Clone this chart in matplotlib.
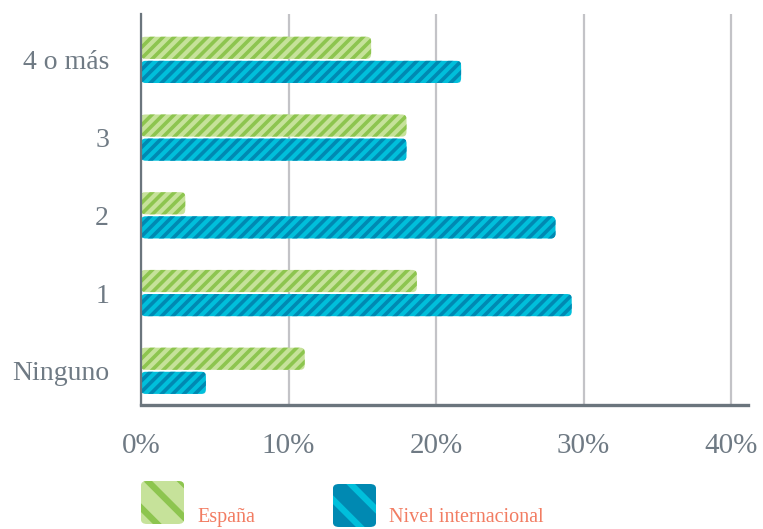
import matplotlib
matplotlib.use("Agg")
import matplotlib.pyplot as plt
from matplotlib.patches import FancyBboxPatch
import numpy as np

categories = ['Ninguno', '1', '2', '3', '4 o más']
espana = [11.1, 18.7, 3.0, 18.0, 15.6]
internacional = [4.4, 29.2, 28.1, 18.0, 21.7]
xticks = [0, 10, 20, 30, 40]
xtick_labels = ['0%', '10%', '20%', '30%', '40%']
series_names = ['España', 'Nivel internacional']

green_light, green_dark = '#c6e29a', '#8dc54f'
blue_light, blue_dark = '#00bfdb', '#0089b2'
axis_grey = '#6b757d'
text_grey = '#6f7a84'
salmon = '#f27c62'

plt.rcParams['hatch.linewidth'] = 2.6
plt.rcParams['font.family'] = ['Liberation Serif', 'DejaVu Serif']

fig = plt.figure(figsize=(7.63, 5.29), dpi=100)
ax = fig.add_axes([141 / 763, 1 - 405 / 529, 607 / 763, 391 / 529])

y = np.arange(len(categories))
h = 0.285
off = 0.155


def rounded_bars(bars, face, stripe):
    # swap the plain rectangles for rounded, striped ones
    for r in bars:
        x0, y0 = r.get_x(), r.get_y()
        w, hh = r.get_width(), r.get_height()
        r.set_visible(False)
        p = FancyBboxPatch((x0, y0), w, hh,
                           boxstyle='round,pad=0,rounding_size=0.3',
                           mutation_aspect=0.2,
                           facecolor=face, edgecolor=stripe, hatch='///',
                           linewidth=0, zorder=3)
        ax.add_patch(p)


b1 = ax.barh(y + off, espana, height=h)
b2 = ax.barh(y - off, internacional, height=h)
rounded_bars(b1, green_light, green_dark)
rounded_bars(b2, blue_light, blue_dark)

ax.set_xlim(0, 41.15)
ax.set_ylim(-0.44, 4.59)
ax.set_xticks(xticks)
ax.set_xticklabels(xtick_labels)
ax.set_yticks(y)
ax.set_yticklabels(categories)
ax.tick_params(axis='x', length=0, pad=20, labelsize=21, labelcolor=text_grey)
ax.tick_params(axis='y', length=0, pad=23, labelsize=20, labelcolor=text_grey)

ax.grid(axis='x', color='#c3c3c7', linewidth=1.6, zorder=0)
ax.set_axisbelow(True)
for s in ['top', 'right']:
    ax.spines[s].set_visible(False)
ax.spines['left'].set_color(axis_grey)
ax.spines['left'].set_linewidth(1.6)
ax.spines['bottom'].set_color(axis_grey)
ax.spines['bottom'].set_linewidth(2.4)
ax.spines['left'].set_zorder(4)

# legend swatches, wider stripes than the bars
W, H = 763, 529
for (x0, y0), face, stripe, name, tx in [
    ((141, 481), green_light, green_dark, series_names[0], 197),
    ((333, 484), blue_dark, blue_light, series_names[1], 389),
]:
    sw = FancyBboxPatch((x0 / W, 1 - (y0 + 43) / H), 43 / W, 43 / H,
                        boxstyle='round,pad=0,rounding_size=0.008',
                        transform=fig.transFigure, facecolor=face,
                        edgecolor=stripe, hatch='\\', linewidth=0)
    if hasattr(sw, 'set_hatch_linewidth'):
        sw.set_hatch_linewidth(4.5)
    fig.patches.append(sw)
    fig.text(tx / W, 1 - 522 / H, name, color=salmon, fontsize=14.5,
             va='baseline', ha='left')

fig.savefig('out.png', dpi=100)
